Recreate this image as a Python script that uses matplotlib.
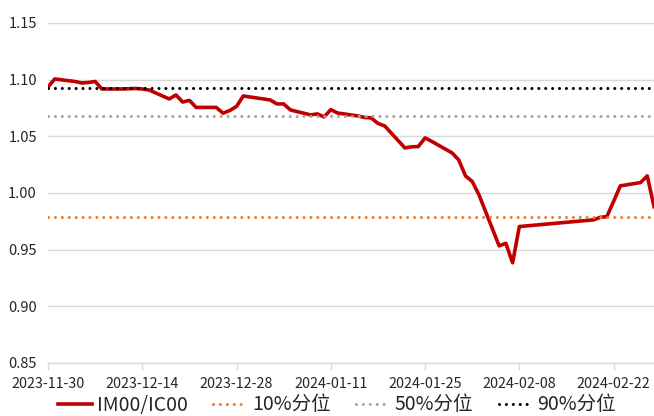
import matplotlib
matplotlib.use("Agg")
import matplotlib.pyplot as plt
import matplotlib.dates as mdates
import pandas as pd

plt.rcParams['font.family'] = ['Noto Sans CJK SC', 'DejaVu Sans']

dates = ["2023-11-30", "2023-12-01", "2023-12-04", "2023-12-05", "2023-12-06", "2023-12-07",
         "2023-12-08", "2023-12-11", "2023-12-12", "2023-12-13", "2023-12-14", "2023-12-15",
         "2023-12-18", "2023-12-19", "2023-12-20", "2023-12-21", "2023-12-22", "2023-12-25",
         "2023-12-26", "2023-12-27", "2023-12-28", "2023-12-29", "2024-01-02", "2024-01-03",
         "2024-01-04", "2024-01-05", "2024-01-08", "2024-01-09", "2024-01-10", "2024-01-11",
         "2024-01-12", "2024-01-15", "2024-01-16", "2024-01-17", "2024-01-18", "2024-01-19",
         "2024-01-22", "2024-01-23", "2024-01-24", "2024-01-25", "2024-01-26", "2024-01-29",
         "2024-01-30", "2024-01-31", "2024-02-01", "2024-02-02", "2024-02-05", "2024-02-06",
         "2024-02-07", "2024-02-08", "2024-02-19", "2024-02-20", "2024-02-21", "2024-02-22",
         "2024-02-23", "2024-02-26", "2024-02-27", "2024-02-28"]
ratio = [1.0936, 1.1006, 1.0984, 1.0971, 1.0975, 1.0984,
         1.0918, 1.0918, 1.0920, 1.0922, 1.0918, 1.0909,
         1.0830, 1.0865, 1.0803, 1.0817, 1.0755, 1.0755,
         1.0704, 1.0728, 1.0764, 1.0856, 1.0821, 1.0786,
         1.0786, 1.0733, 1.0689, 1.0698, 1.0671, 1.0736,
         1.0706, 1.0680, 1.0667, 1.0662, 1.0614, 1.0592,
         1.0398, 1.0407, 1.0410, 1.0486, 1.0455, 1.0354,
         1.0292, 1.0151, 1.0102, 0.9985, 0.9534, 0.9556,
         0.9384, 0.9704, 0.9763, 0.9785, 0.9792, 0.9926,
         1.0063, 1.0092, 1.0151, 0.9880]
p10 = 0.979
p50 = 1.068
p90 = 1.093
series_labels = ["IM00/IC00", "10%分位", "50%分位", "90%分位"]
tick_dates = ["2023-11-30", "2023-12-14", "2023-12-28", "2024-01-11",
              "2024-01-25", "2024-02-08", "2024-02-22"]
y_ticks = [0.85, 0.90, 0.95, 1.00, 1.05, 1.10, 1.15]

x = pd.to_datetime(dates)

fig = plt.figure(figsize=(6.54, 4.16), dpi=100)
ax = fig.add_axes([48/654, 1-363/416, 606/654, 340/416])

dot = dict(linestyle=(0, (0.01, 2.25)), dash_capstyle='round', linewidth=2.2, zorder=4)
l0, = ax.plot(x, ratio, color='#C00000', linewidth=2.6, solid_joinstyle='round', zorder=3,
              label=series_labels[0])
l1, = ax.plot([x[0], x[-1]], [p10, p10], color='#ED7D31', label=series_labels[1], **dot)
l2, = ax.plot([x[0], x[-1]], [p50, p50], color='#A5A5A5', label=series_labels[2], **dot)
l3, = ax.plot([x[0], x[-1]], [p90, p90], color='#000000', label=series_labels[3], **dot)

ax.set_xlim(x[0], x[-1])
ax.set_ylim(0.85, 1.15)
ax.set_yticks(y_ticks)
ax.set_yticklabels([f"{v:.2f}" for v in y_ticks])
ax.set_xticks(pd.to_datetime(tick_dates))
ax.xaxis.set_major_formatter(mdates.DateFormatter('%Y-%m-%d'))

ax.grid(axis='y', color='#D9D9D9', linewidth=1.0, zorder=0)
for s in ['top', 'right', 'left']:
    ax.spines[s].set_visible(False)
ax.spines['bottom'].set_color('#D9D9D9')
ax.spines['bottom'].set_linewidth(1.0)
ax.tick_params(axis='y', length=0, pad=8, labelsize=10.5, labelcolor='#262626')
ax.tick_params(axis='x', length=5, width=1.0, color='#D9D9D9', pad=5, labelsize=10.3,
               labelcolor='#262626')

fig.legend(handles=[l0, l1, l2, l3], loc='center left', bbox_to_anchor=(58/654, 1-405/416),
           ncol=4, frameon=False, fontsize=14, handlelength=1.75, handletextpad=0.25,
           columnspacing=1.3, borderpad=0, borderaxespad=0, labelcolor='#262626')

fig.savefig("out.png", dpi=100)
